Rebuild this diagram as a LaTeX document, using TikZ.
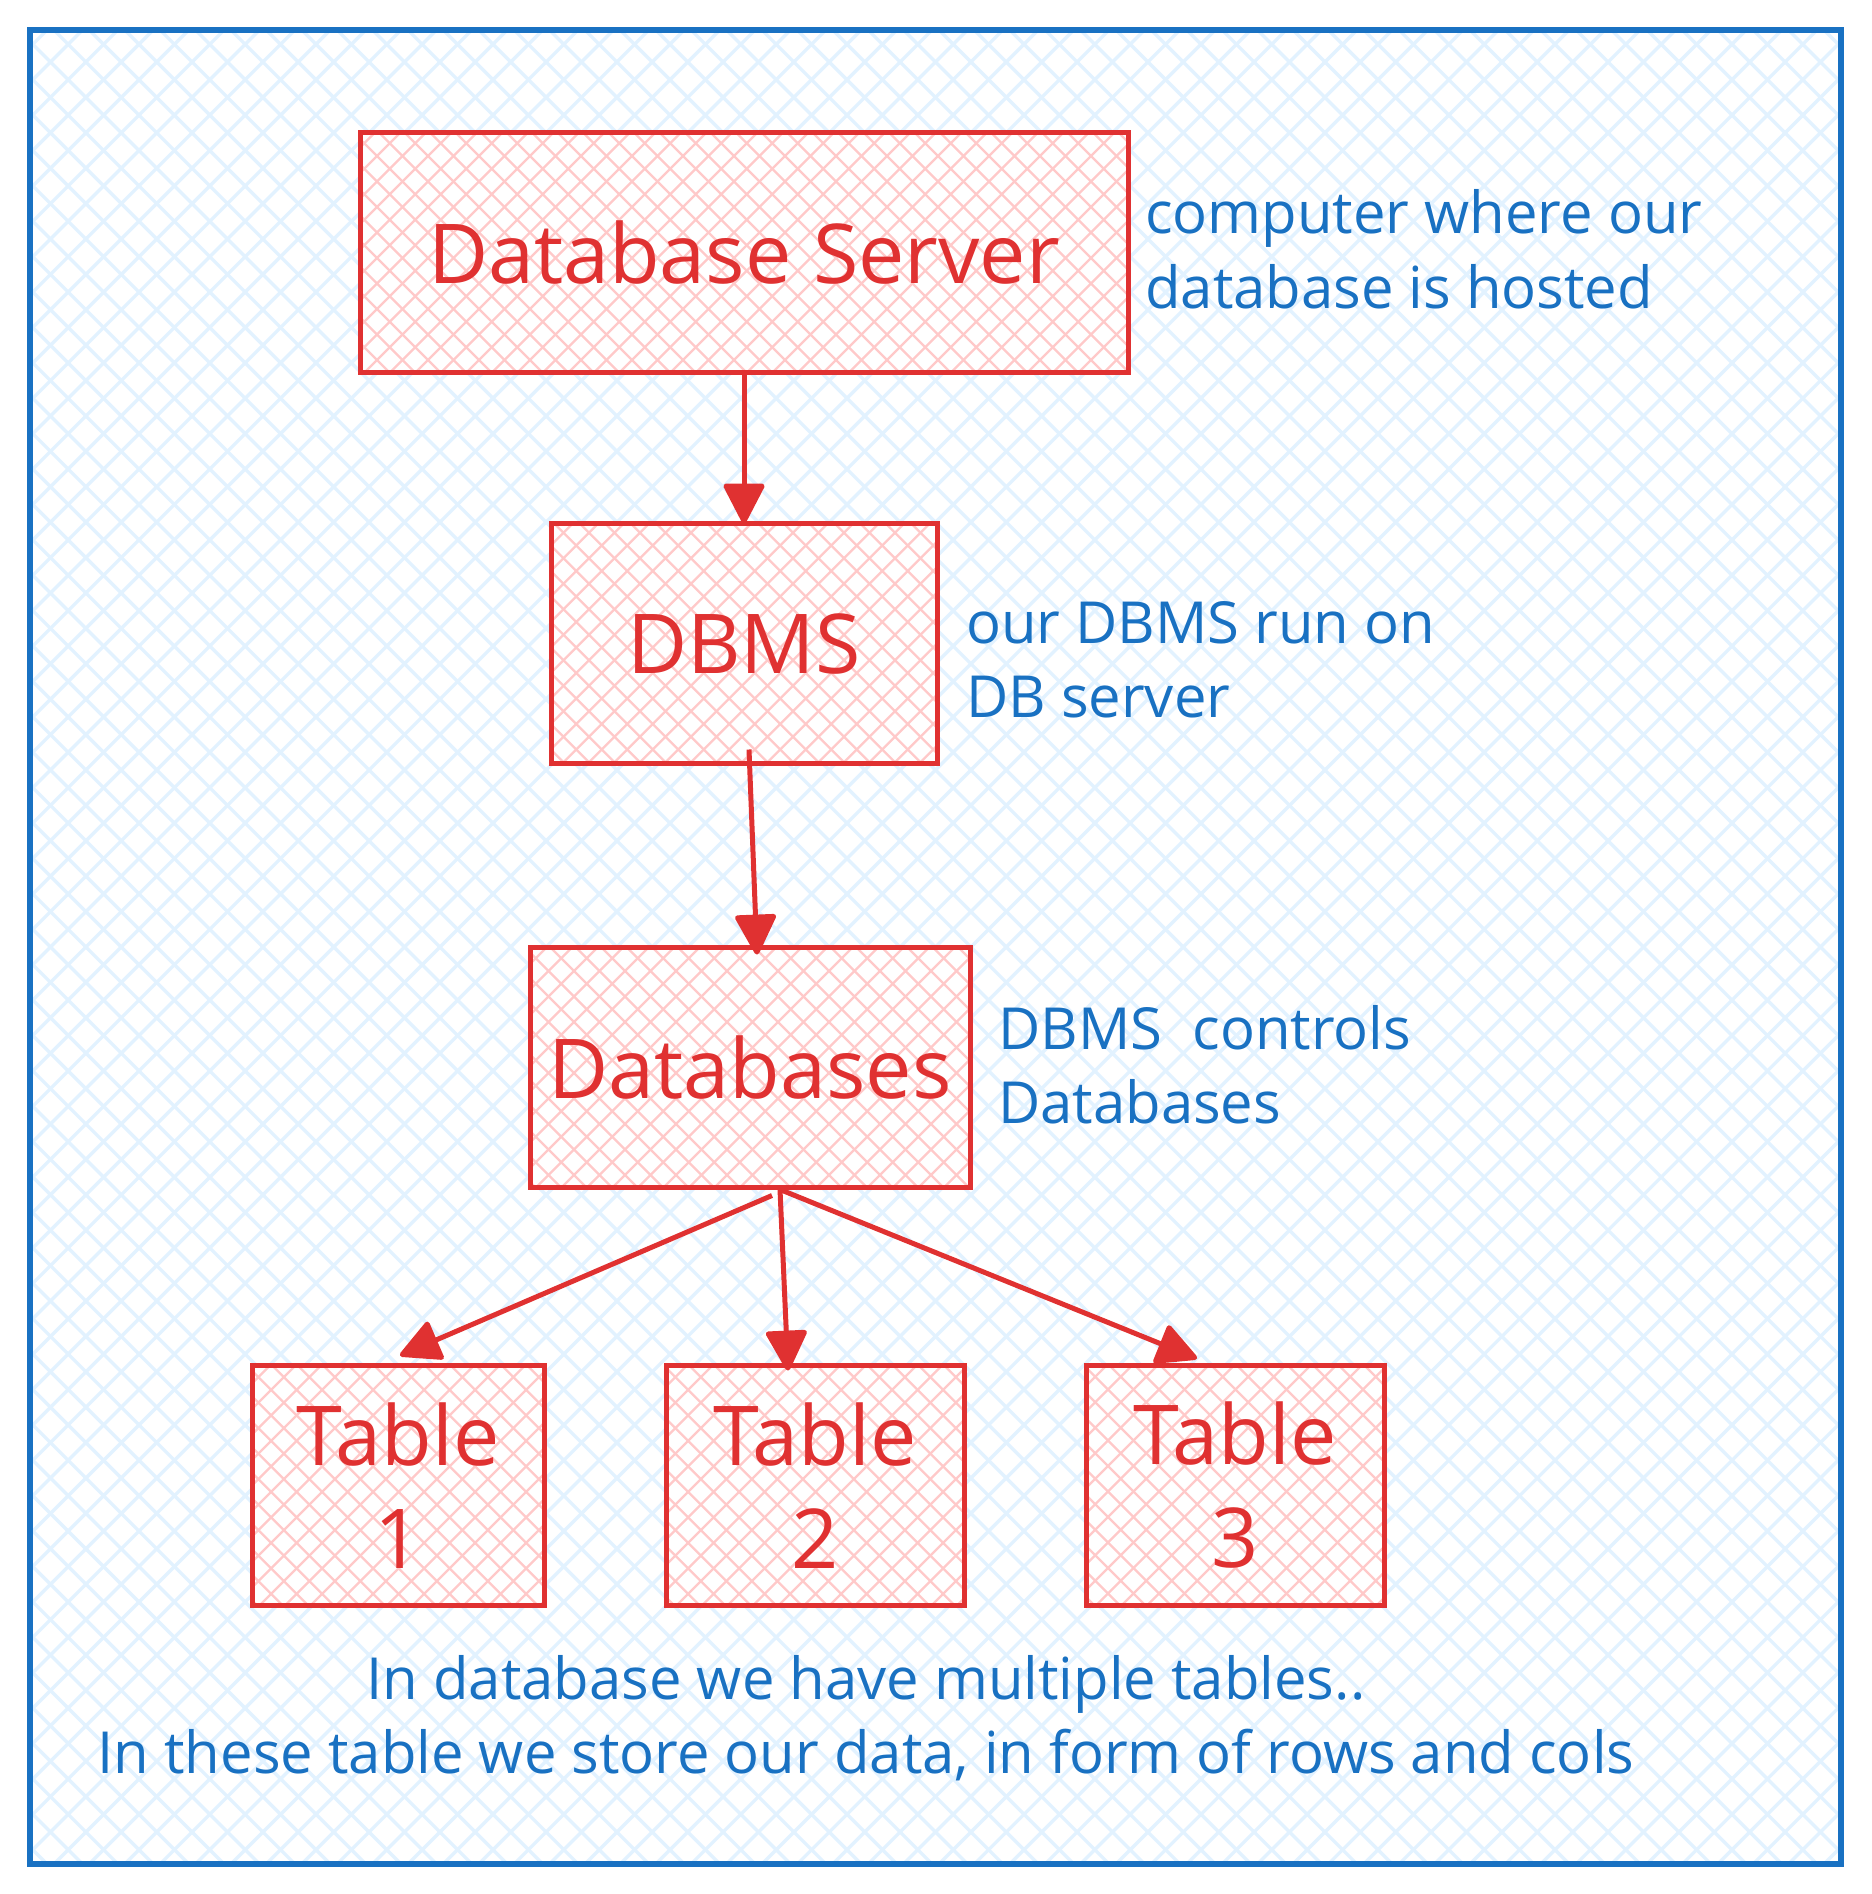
\documentclass[tikz,border=0pt]{standalone}
\usepackage{fontspec}
\setmainfont{Open Sans}
\usetikzlibrary{arrows.meta, positioning}
\definecolor{dbred}{HTML}{E03131}
\definecolor{dbpink}{HTML}{FFC9C9}
\definecolor{dbblue}{HTML}{1971C2}
\definecolor{dbsky}{RGB}{226,242,255}
\tikzset{
	hatch/.style n args={3}{path picture={
		\foreach \k in {-60,...,60}{
			\draw[#1, line width=#3, shift={(path picture bounding box.center)}] (\k*#2-2000,-2000) -- ++(4000,4000);
			\draw[#1, line width=#3, shift={(path picture bounding box.center)}] (\k*#2-2000,2000) -- ++(4000,-4000);
		}}},
	block/.style={rectangle, draw=dbred, line width=5pt, fill=white, hatch={dbpink}{25.5}{2.3pt}, inner sep=0pt, outer sep=0pt, minimum height=240pt, text=dbred, align=center, font=\fontsize{82.6}{103}\selectfont},
	note/.style={text=dbblue, align=left, anchor=base west, inner sep=0pt, font=\fontsize{58}{74}\selectfont},
	line/.style={draw=dbred, line width=5pt, -{Triangle[length=43pt, width=43pt, round]}}
}

\begin{document}
\begin{tikzpicture}[x=1pt, y=-1pt]
    \useasboundingbox (0,0) rectangle (1871,1894);
    % Frame
    \draw[dbblue, line width=6pt, fill=white, hatch={dbsky}{35.4}{3.3pt}] (30,30) rectangle (1841,1864);
    % Nodes
    \node[block, minimum width=768pt] (srv) at (744,252.5) {Database Server};
    \node[block, minimum width=386pt, below=151pt of srv] (dbms) {DBMS};
    \node[block, minimum width=440pt, below=184pt of dbms, xshift=6pt] (dbs) {Databases};
    \node[block, minimum width=298pt, below=178pt of dbs, xshift=65pt] (t2) {Table\\2};
    \node[block, minimum width=292pt, left=122pt of t2] (t1) {Table\\1};
    \node[block, minimum width=298pt, right=122pt of t2] (t3) {Table\\3};
    % Notes (base = last line)
    \node[note] (srvnote) at (1145,308) {computer where our\\database is hosted};
    \node[note] (dbmsnote) at (966,717) {our DBMS run on\\DB server};
    \node[note] (dbsnote) at (998,1123) {DBMS\ \ controls\\Databases};
    \node[note, align=center, anchor=base] (tblnote) at (866,1773) {In database we have multiple tables..\\In these table we store our data, in form of rows and cols};
    % Arrows
    \draw[line] (srv.south) -- (dbms.north);
    \draw[line] ([xshift=5pt, yshift=14pt]dbms.south) -- ([xshift=7pt, yshift=-7pt]dbs.north);
    \draw[line] ([xshift=22pt, yshift=-8pt]dbs.south) -- ([xshift=2pt, yshift=10pt]t1.north);
    \draw[line] ([xshift=30pt, yshift=-2pt]dbs.south) -- ([xshift=-27pt, yshift=-5pt]t2.north);
    \draw[line] ([xshift=30pt, yshift=-2pt]dbs.south) -- ([xshift=-38pt, yshift=7pt]t3.north);
\end{tikzpicture}
\end{document}
